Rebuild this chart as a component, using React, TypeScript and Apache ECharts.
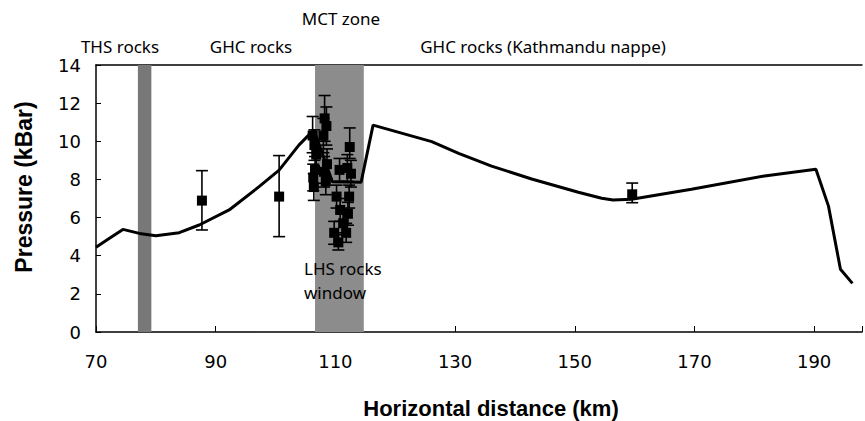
import React, { useEffect, useRef } from "react";
import * as echarts from "echarts";

// Model curve (horizontal distance km, pressure kbar)
const curveX = [70, 72, 74.5, 77.25, 80, 83.9, 87.25, 92.25, 97.25, 100.6, 103.9, 106.4, 109.5, 114.3, 116.3, 126.1, 130.6, 136.1, 142.8, 150.6, 154.5, 156.4, 159.5, 169.5, 181.7, 190.3, 192.4, 194.4, 196.4];
const curveY = [4.44, 4.86, 5.38, 5.17, 5.05, 5.21, 5.61, 6.4, 7.62, 8.49, 9.8, 10.6, 7.88, 7.85, 10.85, 9.98, 9.37, 8.7, 8.02, 7.33, 7.01, 6.92, 6.96, 7.48, 8.18, 8.53, 6.6, 3.29, 2.55];

// Samples: distance, pressure, lower and upper error limits
const sampleX = [87.7, 100.6, 106.2, 106.5, 106.8, 106.6, 106.3, 106.4, 108.2, 108.5, 108.0, 108.6, 108.1, 108.4, 110.7, 110.2, 110.8, 111.3, 109.8, 110.5, 112.4, 112.0, 112.6, 112.3, 112.1, 111.8, 159.6];
const sampleP = [6.89, 7.1, 10.3, 9.8, 9.3, 8.5, 8.1, 7.6, 11.2, 10.8, 10.3, 8.8, 8.4, 7.9, 8.5, 7.1, 6.4, 5.7, 5.2, 4.7, 9.7, 8.6, 8.3, 7.1, 6.2, 5.2, 7.22];
const sampleLow = [5.35, 5.0, 9.4, 9.0, 8.6, 7.8, 7.4, 6.9, 10.0, 9.8, 9.4, 8.0, 7.6, 7.2, 7.9, 6.5, 5.8, 5.1, 4.6, 4.3, 9.1, 7.9, 7.6, 6.5, 5.6, 4.7, 6.78];
const sampleHigh = [8.46, 9.25, 11.3, 10.6, 10.1, 9.2, 8.8, 8.3, 12.4, 11.8, 11.2, 9.6, 9.2, 8.6, 9.1, 7.7, 7.0, 6.3, 5.8, 5.2, 10.7, 9.3, 9.0, 7.7, 6.8, 5.7, 7.81];

// Shaded zones (km)
const thsBand = [77.0, 79.25];
const mctBand = [106.6, 114.75];

// Axes
const xMin = 70;
const xMax = 198;
const xStep = 20;
const yMin = 0;
const yMax = 14;
const yStep = 2;

// Annotations
const zoneLabels = ["THS rocks", "GHC rocks", "MCT zone", "GHC rocks (Kathmandu nappe)"];
const lhsLabel = ["LHS rocks", "window"];
const xTitle = "Horizontal distance (km)";
const yTitle = "Pressure (kBar)";

export default function App() {
  const ref = useRef<HTMLDivElement>(null);
  useEffect(() => {
    document.body.style.margin = "0";
    const chart = echarts.init(ref.current!, null, { renderer: "svg" });
    const lineData = curveX.map((x, i) => [x, curveY[i]]);
    const pts = sampleX.map((x, i) => [x, sampleP[i]]);
    const errs = sampleX.map((x, i) => [x, sampleLow[i], sampleHigh[i]]);
    const labelFont = '17px "Noto Sans"';
    const txt = (text: string, x: number, y: number, align: string, font = labelFont, rotation = 0) => ({
      type: "text",
      x,
      y,
      z: 100,
      rotation,
      style: { text, font, fill: "#000", align, verticalAlign: "middle" },
    });
    chart.setOption({
      animation: false,
      grid: { left: 96, right: 0, top: 65, bottom: 89 },
      xAxis: [
        {
          type: "value",
          min: xMin,
          max: xMax,
          interval: xStep,
          axisLine: { lineStyle: { color: "#000", width: 1.5 } },
          axisTick: { inside: true, length: 6, lineStyle: { color: "#000", width: 1 } },
          axisLabel: {
            color: "#000",
            fontFamily: "DejaVu Sans",
            fontSize: 18,
            margin: 20,
            formatter: (v: number) => ((v - xMin) % xStep === 0 ? String(v) : ""),
          },
          splitLine: { show: false },
        },
        {
          type: "value",
          position: "top",
          min: xMin,
          max: xMax,
          axisLine: { show: true, lineStyle: { color: "#000", width: 1.5 } },
          axisTick: { show: false },
          axisLabel: { show: false },
          splitLine: { show: false },
        },
      ],
      yAxis: {
        type: "value",
        min: yMin,
        max: yMax,
        interval: yStep,
        axisLine: { show: true, lineStyle: { color: "#000", width: 1.5 } },
        axisTick: { show: true, inside: true, length: 5, lineStyle: { color: "#000", width: 1 } },
        axisLabel: { color: "#000", fontFamily: "DejaVu Sans", fontSize: 18, margin: 15 },
        splitLine: { show: false },
      },
      series: [
        {
          type: "line",
          z: 1,
          data: [],
          silent: true,
          markArea: {
            silent: true,
            label: { show: false },
            data: [
              [{ xAxis: thsBand[0], itemStyle: { color: "#787878", opacity: 1 } }, { xAxis: thsBand[1] }],
              [{ xAxis: mctBand[0], itemStyle: { color: "#8c8c8c", opacity: 1 } }, { xAxis: mctBand[1] }],
            ],
          },
        },
        {
          type: "line",
          z: 2,
          data: lineData,
          showSymbol: false,
          symbol: "none",
          lineStyle: { color: "#000", width: 3 },
          smooth: false,
        },
        {
          type: "custom",
          z: 3,
          data: errs,
          renderItem: (params: any, api: any) => {
            const x = api.value(0);
            const lo = api.coord([x, api.value(1)]);
            const hi = api.coord([x, api.value(2)]);
            const w = 6;
            const st = { stroke: "#000", lineWidth: 1.6 };
            return {
              type: "group",
              children: [
                { type: "line", shape: { x1: lo[0], y1: lo[1], x2: hi[0], y2: hi[1] }, style: st },
                { type: "line", shape: { x1: lo[0] - w, y1: lo[1], x2: lo[0] + w, y2: lo[1] }, style: st },
                { type: "line", shape: { x1: hi[0] - w, y1: hi[1], x2: hi[0] + w, y2: hi[1] }, style: st },
              ],
            };
          },
        },
        {
          type: "scatter",
          z: 4,
          data: pts,
          symbol: "rect",
          symbolSize: 10,
          itemStyle: { color: "#000", opacity: 1 },
        },
      ],
      graphic: [
        txt(zoneLabels[0], 120, 46, "center"),
        txt(zoneLabels[1], 251, 46, "center"),
        txt(zoneLabels[2], 341, 18, "center"),
        txt(zoneLabels[3], 543, 46, "center"),
        txt(lhsLabel[0], 304, 268, "left"),
        txt(lhsLabel[1], 304, 292, "left"),
        txt(xTitle, 491, 408, "center", 'bold 22px "Liberation Sans"'),
        txt(yTitle, 24, 187, "center", 'bold 23px "Liberation Sans"', Math.PI / 2),
      ],
    });
    return () => chart.dispose();
  }, []);
  return <div ref={ref} style={{ width: 865, height: 421 }} />;
}
